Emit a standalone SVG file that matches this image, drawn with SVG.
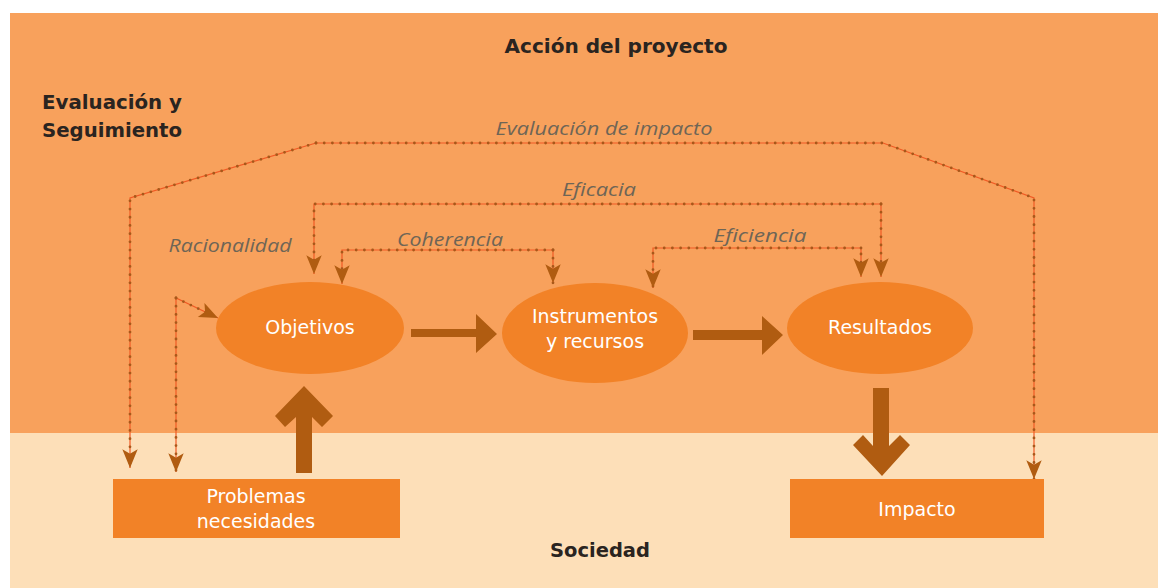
<svg xmlns="http://www.w3.org/2000/svg" width="1158" height="588" viewBox="0 0 1158 588">
<defs>
<marker id="ah" markerUnits="userSpaceOnUse" markerWidth="22" markerHeight="22" viewBox="-2 -9 20 18" refX="17" refY="0" orient="auto">
<path d="M0,-7 L17,0 L0,7 L4,0 Z" fill="#B05C11"/>
</marker>
<style>
.ln{fill:none;stroke:#F15A24;stroke-width:1.2}
.dt{fill:none;stroke:#A8581A;stroke-width:2.8;stroke-dasharray:0 8.2;stroke-linecap:round}
.lbl{font-family:"Open Sans","DejaVu Sans",sans-serif;font-style:italic;font-size:18px;fill:#6E6556}
.hd{font-family:"DejaVu Sans",sans-serif;font-weight:bold;font-size:20px;fill:#2A2420}
.nt{font-family:"DejaVu Sans",sans-serif;font-size:19px;fill:#FFFFFF;text-anchor:middle}
.ell{fill:#F28227}
.big{fill:#B05C11}
</style>
</defs>
<rect x="0" y="0" width="1158" height="588" fill="#FFFFFF"/>
<rect x="10" y="13" width="1148" height="420" fill="#F8A15C"/>
<rect x="10" y="433" width="1148" height="155" fill="#FDDFB8"/>

<text class="hd" x="616" y="53" text-anchor="middle" textLength="223" lengthAdjust="spacingAndGlyphs">Acción del proyecto</text>
<text class="hd" x="42" y="109" textLength="140" lengthAdjust="spacingAndGlyphs">Evaluación y</text>
<text class="hd" x="42" y="137" textLength="140" lengthAdjust="spacingAndGlyphs">Seguimiento</text>
<text class="hd" x="600" y="557" text-anchor="middle" textLength="100" lengthAdjust="spacingAndGlyphs">Sociedad</text>

<g id="connectors">
<g id="c-impacto">
<path class="ln" d="M316,143 L130,198 L130,468"/>
<path class="dt" d="M316,143 L130,198 L130,468" marker-end="url(#ah)"/>
<path class="ln" d="M316,143 L883,143 L1034,198 L1034,479"/>
<path class="dt" d="M316,143 L883,143 L1034,198 L1034,479" marker-end="url(#ah)"/>
</g>
<g id="c-eficacia">
<path class="ln" d="M314,274 L314,204 L881,204 L881,277"/>
<path class="dt" d="M881,204 L314,204 L314,274" marker-end="url(#ah)"/>
<path class="dt" d="M881,204 L881,277" marker-end="url(#ah)"/>
</g>
<g id="c-coherencia">
<path class="ln" d="M342,284 L342,250 L553,250 L553,283"/>
<path class="dt" d="M553,250 L342,250 L342,284" marker-end="url(#ah)"/>
<path class="dt" d="M553,250 L553,283" marker-end="url(#ah)"/>
</g>
<g id="c-eficiencia">
<path class="ln" d="M653,288 L653,248 L861,248 L861,277"/>
<path class="dt" d="M861,248 L653,248 L653,288" marker-end="url(#ah)"/>
<path class="dt" d="M861,254 L861,277" marker-end="url(#ah)"/>
</g>
<g id="c-racionalidad">
<path class="ln" d="M176,472 L176,298 L218,318"/>
<path class="dt" d="M176,298 L218,318" marker-end="url(#ah)"/>
<path class="dt" d="M176,298 L176,472" marker-end="url(#ah)"/>
</g>
<g id="big-arrows">
<polygon class="big" points="411,329 476,329 476,314 497,334 476,353 476,337 411,337"/>
<polygon class="big" points="693,330 762,330 762,316 783,335 762,355 762,340 693,340"/>
<polygon class="big" points="304,386 333,416 322,427 312,417 312,473 296,473 296,417 285,427 275,416"/>
<polygon class="big" points="873,388 889,388 889,446 900,435 910,445 882,476 853,445 863,435 873,446"/>
</g>
</g>

<text class="lbl" x="604" y="135" text-anchor="middle" textLength="217" lengthAdjust="spacingAndGlyphs">Evaluación de impacto</text>
<text class="lbl" x="599" y="196" text-anchor="middle" textLength="74" lengthAdjust="spacingAndGlyphs">Eficacia</text>
<text class="lbl" x="450" y="246" text-anchor="middle" textLength="106" lengthAdjust="spacingAndGlyphs">Coherencia</text>
<text class="lbl" x="760" y="242" text-anchor="middle" textLength="93" lengthAdjust="spacingAndGlyphs">Eficiencia</text>
<text class="lbl" x="230" y="252" text-anchor="middle" textLength="123" lengthAdjust="spacingAndGlyphs">Racionalidad</text>

<g id="n-objetivos">
<ellipse class="ell" cx="310" cy="328" rx="94" ry="46"/>
<text class="nt" x="310" y="334">Objetivos</text>
</g>
<g id="n-instrumentos">
<ellipse class="ell" cx="595" cy="333" rx="93" ry="50"/>
<text class="nt" x="595" y="323">Instrumentos</text>
<text class="nt" x="595" y="348">y recursos</text>
</g>
<g id="n-resultados">
<ellipse class="ell" cx="880" cy="328" rx="93" ry="46"/>
<text class="nt" x="880" y="334">Resultados</text>
</g>
<g id="n-problemas">
<rect x="113" y="479" width="287" height="59" fill="#F28227"/>
<text class="nt" x="256" y="503">Problemas</text>
<text class="nt" x="256" y="528">necesidades</text>
</g>
<g id="n-impacto">
<rect x="790" y="479" width="254" height="59" fill="#F28227"/>
<text class="nt" x="917" y="516">Impacto</text>
</g>
</svg>
